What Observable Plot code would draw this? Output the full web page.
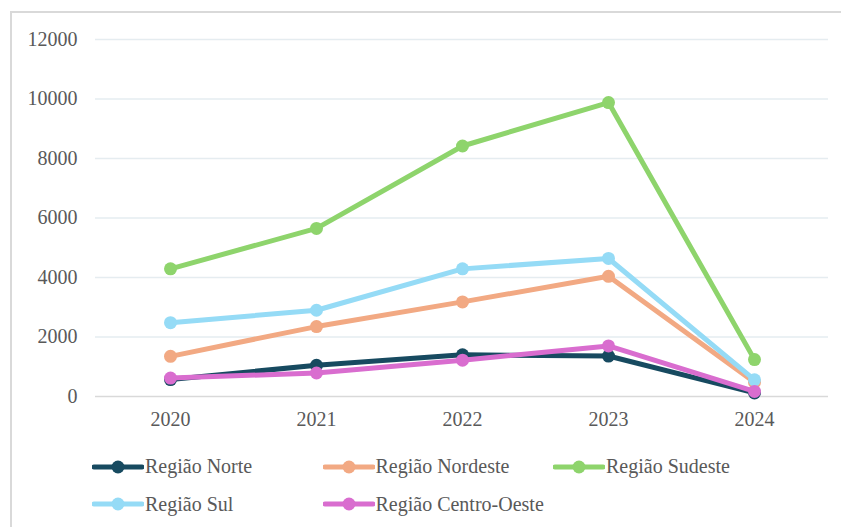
<!DOCTYPE html>
<html>
<head>
<meta charset="utf-8">
<script src="https://cdn.jsdelivr.net/npm/d3@7"></script>
<script src="https://cdn.jsdelivr.net/npm/@observablehq/plot@0.6"></script>
<style>
  body { margin: 0; background: #fff; }
  #wrap { position: relative; width: 841px; height: 527px; overflow: hidden; background: #fff;
          font-family: 'Liberation Serif', 'DejaVu Serif', serif; color: #595959; }
  #frame { position: absolute; left: 10px; top: 11px; width: 860px; height: 560px; border: 2px solid #d9d9d9; }
  #chart { position: absolute; left: 0; top: 0; }
  #legend { position: absolute; left: 92px; top: 448px; display: grid;
            grid-template-columns: 230.5px 230.5px 230.5px; grid-auto-rows: 37.6px; }
  .item { display: flex; align-items: center; font-size: 20px; white-space: nowrap; }
  .item svg { margin-right: 1px; }
</style>
</head>
<body>
<div id="wrap">
  <div id="frame"></div>
  <div id="chart"></div>
  <div id="legend"></div>
</div>
<script>
const years = ["2020", "2021", "2022", "2023", "2024"];
const regions = ["Região Norte", "Região Nordeste", "Região Sudeste", "Região Sul", "Região Centro-Oeste"];
const colors = ["#174a60", "#f2a983", "#8ed46c", "#95dbf6", "#d96dcf"];
const norte = [570, 1050, 1400, 1360, 120];
const nordeste = [1350, 2350, 3180, 4040, 480];
const sudeste = [4290, 5650, 8420, 9880, 1240];
const sul = [2480, 2900, 4290, 4640, 560];
const centroOeste = [620, 790, 1220, 1700, 170];
const yTicks = [0, 2000, 4000, 6000, 8000, 10000, 12000];

const series = [norte, nordeste, sudeste, sul, centroOeste];
const data = regions.flatMap((r, i) => years.map((y, j) => ({region: r, year: y, value: series[i][j]})));

const FONT = "'Liberation Serif', 'DejaVu Serif', serif";

const marks = [
  Plot.ruleY(yTicks.filter(d => d > 0), {stroke: "#e5ecf0", strokeWidth: 1.6}),
  Plot.ruleY([0], {stroke: "#d9d9d9", strokeWidth: 1.6}),
  Plot.axisY({ticks: yTicks, tickSize: 0, tickPadding: 18, tickFormat: d => String(d), fontSize: 20, fill: "#595959", fontFamily: FONT}),
  Plot.axisX({tickSize: 0, tickPadding: 15, fontSize: 20, fill: "#595959", fontFamily: FONT})
];
regions.forEach(r => {
  const d = data.filter(e => e.region === r);
  marks.push(Plot.line(d, {x: "year", y: "value", stroke: "region", strokeWidth: 5, strokeLinejoin: "round", strokeLinecap: "round"}));
  marks.push(Plot.dot(d, {x: "year", y: "value", fill: "region", r: 6.5}));
});

const chart = Plot.plot({
  width: 841,
  height: 440,
  marginLeft: 95,
  marginRight: 13,
  marginTop: 39,
  marginBottom: 44,
  style: {fontFamily: FONT, fontSize: "20px", color: "#595959", background: "transparent"},
  x: {type: "point", domain: years, padding: 0.5, label: null},
  y: {domain: [0, 12000], label: null},
  color: {domain: regions, range: colors},
  marks
});
document.getElementById("chart").appendChild(chart);

const legend = document.getElementById("legend");
regions.forEach((r, i) => {
  const item = document.createElement("div");
  item.className = "item";
  item.innerHTML = `<svg width="52" height="16"><line x1="2" y1="8" x2="50" y2="8" stroke="${colors[i]}" stroke-width="5" stroke-linecap="round"/><circle cx="26" cy="8" r="6.5" fill="${colors[i]}"/></svg><span>${r}</span>`;
  legend.appendChild(item);
});
</script>
</body>
</html>
